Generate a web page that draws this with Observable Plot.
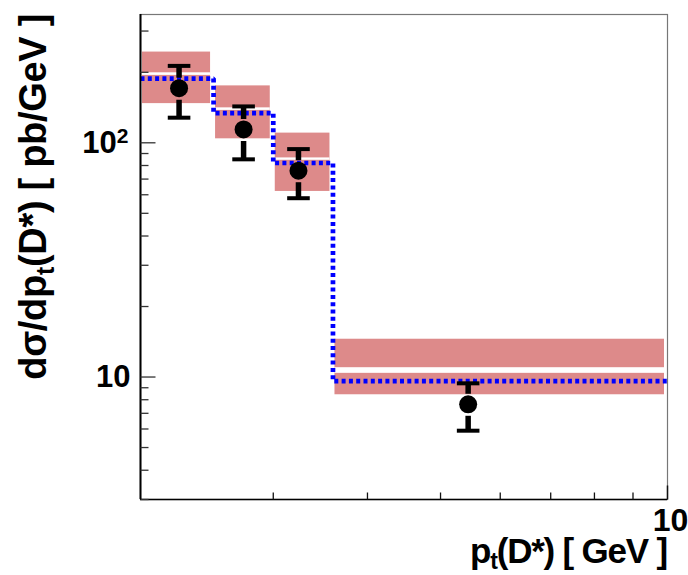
<!DOCTYPE html>
<html><head><meta charset="utf-8">
<script src="https://cdn.jsdelivr.net/npm/d3@7"></script>
<script src="https://cdn.jsdelivr.net/npm/@observablehq/plot@0.6"></script>
<style>body{margin:0;background:#fff} #chart{width:688px;height:575px}</style>
</head><body><div id="chart"></div>
<script>
// pt bin edges [GeV]
const binEdges = [2, 2.5, 3, 3.6, 10];
// theory uncertainty band (pb/GeV)
const bandLo = [147, 104, 62, 8.4];
const bandHi = [244, 175, 110, 14.5];
// white central line of the band
const gapLo = [194, 137.5, 84.2, 10.37];
const gapHi = [199, 141, 86.2, 10.96];
// dotted theory prediction per bin
const theory = [188, 134, 82, 9.6];
// data points
const ptMean = [2.25, 2.74, 3.24, 5.44];
const sigma = [171, 114, 76, 7.65];
const errUp = [213, 143, 94, 9.4];
const errDown = [128, 85, 58, 5.9];
// ticks
const xMinorTicks = [3, 4, 5, 6, 7, 8, 9];
const xMajorTicks = [10];
const xTickLabels = ["10"];
const yMajorTicks = [10, 100];
const yTickBase = ["10", "10"];
const yTickExp = ["", "2"];
const yMinorTicks = [3, 4, 5, 6, 7, 8, 9, 20, 30, 40, 50, 60, 70, 80, 90, 200, 300];

const font = "'Liberation Sans', Arial, Helvetica, sans-serif";
const hline = {draw(ctx, size) { const r = Math.sqrt(size / Math.PI); ctx.moveTo(-r, 0); ctx.lineTo(r, 0); }};
const tickRight = {draw(ctx, size) { const r = Math.sqrt(size / Math.PI); ctx.moveTo(0, 0); ctx.lineTo(r, 0); }};
const tickUp = {draw(ctx, size) { const r = Math.sqrt(size / Math.PI); ctx.moveTo(0, 0); ctx.lineTo(0, -r); }};

const bins = bandLo.map((d, i) => ({x1: binEdges[i], x2: binEdges[i + 1], lo: bandLo[i], hi: bandHi[i], glo: gapLo[i], ghi: gapHi[i]}));
const steps = binEdges.map((x, i) => ({x, y: theory[Math.min(i, theory.length - 1)]}));
const points = ptMean.map((x, i) => ({x, y: sigma[i], up: errUp[i], down: errDown[i]}));

const plot = Plot.plot({
  width: 688, height: 575,
  marginLeft: 140, marginRight: 21, marginTop: 14, marginBottom: 76,
  x: {type: "log", domain: [2, 10], axis: null},
  y: {type: "log", domain: [3, 353], axis: null},
  style: {fontFamily: font, background: "#fff", overflow: "visible"},
  marks: [
    Plot.rect(bins, {x1: "x1", x2: "x2", y1: "lo", y2: "hi", fill: "#dd8a8a", insetLeft: 2, insetRight: 3}),
    Plot.rect(bins, {x1: "x1", x2: "x2", y1: "glo", y2: "ghi", fill: "#ffffff", insetLeft: 2, insetRight: 3}),
    Plot.line(steps, {x: "x", y: "y", curve: "step-after", stroke: "#0000ff", strokeWidth: 4.7, strokeDasharray: "4,3.3", strokeLinecap: "butt", strokeLinejoin: "miter"}),
    Plot.ruleX(points, {x: "x", y1: "up", y2: "y", stroke: "black", strokeWidth: 5.5, insetBottom: 10, strokeLinecap: "butt"}),
    Plot.ruleX(points, {x: "x", y1: "y", y2: "down", stroke: "black", strokeWidth: 5.5, insetTop: 12, strokeLinecap: "butt"}),
    Plot.dot(points, {x: "x", y: "up", symbol: hline, r: 11.3, stroke: "black", strokeWidth: 4, strokeLinecap: "butt"}),
    Plot.dot(points, {x: "x", y: "down", symbol: hline, r: 11.3, stroke: "black", strokeWidth: 4, strokeLinecap: "butt"}),
    Plot.dot(points, {x: "x", y: "y", r: 9, fill: "black", stroke: "none"}),
    Plot.frame({stroke: "#777", strokeWidth: 1.2}),
    Plot.ruleX([2], {stroke: "black", strokeWidth: 2}),
    Plot.ruleY([3], {stroke: "black", strokeWidth: 1.5}),
    Plot.dot(yMinorTicks, {y: d => d, frameAnchor: "left", symbol: tickRight, r: 8, stroke: "#333", strokeWidth: 1.3}),
    Plot.dot(yMajorTicks, {y: d => d, frameAnchor: "left", symbol: tickRight, r: 15, stroke: "#333", strokeWidth: 1.3}),
    Plot.dot(xMinorTicks, {x: d => d, frameAnchor: "bottom", symbol: tickUp, r: 7, stroke: "#111", strokeWidth: 1.3}),
    Plot.dot(xMajorTicks, {x: d => d, frameAnchor: "bottom", symbol: tickUp, r: 14, stroke: "#111", strokeWidth: 1.5}),
    Plot.text(yMajorTicks, {y: d => d, frameAnchor: "left", text: (d, i) => yTickBase[i], textAnchor: "end", fontSize: 31, fontWeight: "bold", fill: "black"}),
    Plot.text(xMajorTicks, {x: d => d, frameAnchor: "bottom", text: (d, i) => xTickLabels[i], dx: 3, dy: 31, fontSize: 32, fontWeight: "bold", fill: "black"})
  ]
});
document.getElementById("chart").appendChild(plot);

const svg = d3.select(plot);
// y tick labels: base number and superscript exponent
svg.selectAll("g[aria-label='text']").filter((d, i) => i === 0).selectAll("text").each(function(d, i) {
  const t = d3.select(this);
  const exp = yTickExp[i];
  const txt = yTickBase[i];
  t.text(null);
  t.attr("text-anchor", "end");
  if (exp) {
    t.attr("transform", (t.attr("transform") || "") + " translate(-12,0)");
    t.append("tspan").text(txt);
    t.append("tspan").attr("font-size", 21).attr("dy", "-0.45em").text(exp);
  } else {
    t.attr("transform", (t.attr("transform") || "") + " translate(-10,0)");
    t.append("tspan").text(txt);
  }
});
// y-axis title
const yt = svg.append("text")
  .attr("transform", "translate(46,14) rotate(-90)")
  .attr("text-anchor", "end")
  .attr("font-family", font).attr("font-weight", "bold").attr("font-size", 38).attr("fill", "black")
  .attr("letter-spacing", -0.3);
yt.append("tspan").text("dσ/dp");
yt.append("tspan").attr("font-size", 25).attr("dy", 8).text("t");
yt.append("tspan").attr("dy", -8).text("(D*) [ pb/GeV ]");
// x-axis title
const xt = svg.append("text")
  .attr("x", 667).attr("y", 563)
  .attr("text-anchor", "end")
  .attr("font-family", font).attr("font-weight", "bold").attr("font-size", 35).attr("fill", "black")
  .attr("letter-spacing", -1.2);
xt.append("tspan").text("p");
xt.append("tspan").attr("font-size", 23).attr("dy", 6).text("t");
xt.append("tspan").attr("dy", -6).text("(D*) [ GeV ]");
</script>
</body></html>
